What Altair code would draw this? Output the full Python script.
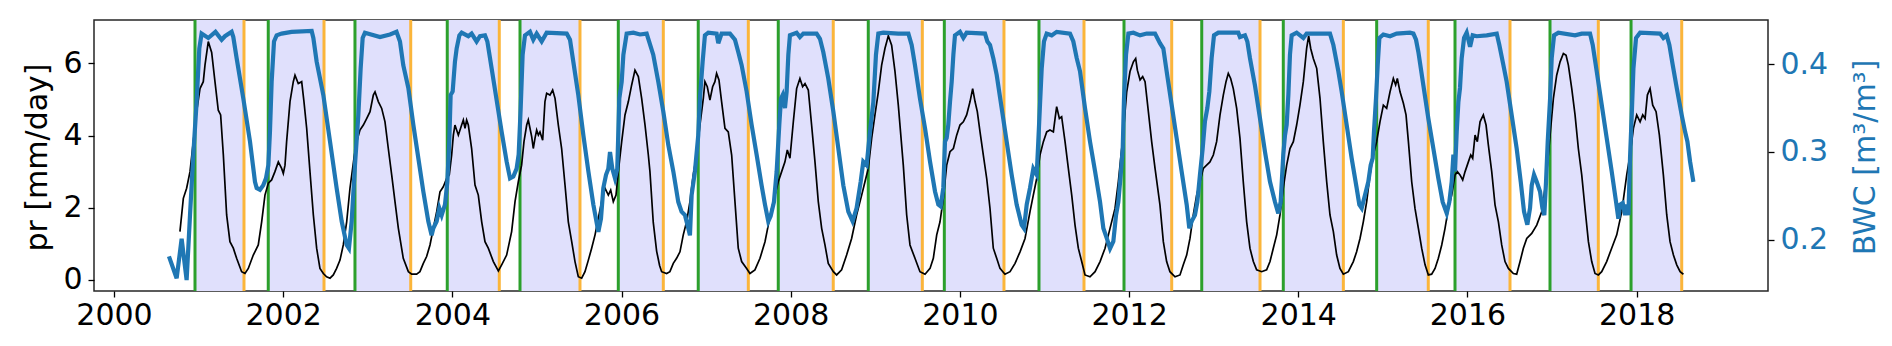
import altair as alt
import pandas as pd

# ---------------- data ----------------
pr_year = [
 2000.780,2000.820,2000.859,2000.899,2000.938,2000.977,2001.017,2001.056,2001.076,2001.115,
 2001.155,2001.194,2001.233,2001.261,2001.293,2001.332,2001.371,2001.411,2001.450,2001.509,
 2001.549,2001.588,2001.647,2001.706,2001.746,2001.785,2001.825,2001.864,2001.903,2001.943,
 2001.982,2002.002,2002.022,2002.041,2002.081,2002.120,2002.140,2002.179,2002.219,2002.246,
 2002.278,2002.317,2002.357,2002.396,2002.435,2002.475,2002.514,2002.554,2002.593,2002.632,
 2002.672,2002.711,2002.751,2002.790,2002.837,2002.869,2002.908,2002.948,2002.987,2003.027,
 2003.066,2003.086,2003.125,2003.165,2003.204,2003.243,2003.283,2003.322,2003.362,
 2003.420,2003.480,2003.519,2003.578,2003.617,2003.657,2003.696,2003.736,2003.775,2003.815,
 2003.854,2003.893,2003.933,2003.964,2003.992,2004.012,2004.031,2004.071,2004.110,2004.130,
 2004.150,2004.169,2004.189,2004.228,2004.268,2004.307,2004.347,2004.386,2004.425,2004.485,
 2004.544,2004.583,2004.642,2004.701,2004.741,2004.780,2004.819,2004.847,2004.879,2004.898,
 2004.918,2004.938,2004.957,2004.977,2004.997,2005.017,2005.036,2005.068,2005.095,2005.115,
 2005.154,2005.186,2005.214,2005.253,2005.292,2005.332,2005.371,2005.411,2005.450,2005.489,
 2005.529,2005.568,2005.608,2005.647,2005.687,2005.726,2005.765,2005.805,2005.844,2005.872,
 2005.903,2005.935,2005.962,2006.002,2006.041,2006.081,2006.120,2006.159,2006.199,2006.238,
 2006.278,2006.317,2006.336,2006.375,2006.415,2006.450,2006.474,
 2006.533,2006.572,2006.612,2006.651,2006.691,2006.730,2006.769,2006.809,2006.848,2006.888,
 2006.927,2006.967,2006.986,2007.014,2007.045,2007.077,2007.104,2007.124,2007.152,2007.183,
 2007.223,2007.262,2007.302,2007.341,2007.380,2007.420,2007.479,2007.518,2007.577,2007.637,
 2007.696,2007.735,2007.775,2007.814,2007.853,2007.893,2007.932,2007.960,2007.991,2008.031,
 2008.070,2008.109,2008.141,2008.169,2008.208,2008.247,2008.287,2008.326,2008.366,2008.405,
 2008.444,2008.504,2008.543,2008.602,2008.661,2008.720,2008.779,2008.839,2008.878,2008.917,
 2008.957,2008.996,2009.036,2009.075,2009.114,2009.154,2009.193,2009.233,2009.272,
 2009.331,2009.371,2009.410,2009.469,2009.528,2009.588,2009.647,2009.686,2009.726,2009.765,
 2009.804,2009.844,2009.883,2009.923,2009.962,2010.001,2010.041,2010.080,2010.120,2010.151,
 2010.179,2010.206,2010.238,2010.277,2010.317,2010.356,2010.395,2010.435,2010.474,2010.533,
 2010.593,2010.652,2010.711,2010.770,2010.829,2010.868,2010.908,2010.947,2010.987,2011.026,
 2011.065,2011.105,2011.125,2011.144,2011.176,2011.203,2011.243,2011.282,2011.322,2011.361,
 2011.400,2011.440,2011.479,2011.538,2011.598,2011.657,2011.716,2011.775,2011.834,2011.873,
 2011.913,2011.940,2011.972,2012.011,2012.051,2012.078,2012.098,2012.130,2012.161,2012.189,
 2012.228,2012.267,2012.307,
 2012.365,2012.405,2012.444,2012.483,2012.543,2012.602,2012.641,2012.681,2012.720,2012.759,
 2012.799,2012.838,2012.878,2012.917,2012.956,2012.996,2013.035,2013.075,2013.114,2013.146,
 2013.173,2013.201,2013.232,2013.272,2013.311,2013.350,2013.390,2013.429,2013.469,2013.508,
 2013.567,2013.626,2013.666,2013.705,2013.745,2013.784,2013.823,2013.863,2013.902,2013.942,
 2013.981,2014.020,2014.060,2014.099,2014.123,2014.147,2014.178,2014.218,2014.257,2014.296,
 2014.336,2014.375,2014.415,2014.454,2014.493,2014.533,2014.592,2014.651,2014.690,2014.730,
 2014.769,2014.809,2014.848,2014.887,2014.927,2014.966,2015.006,2015.045,2015.085,2015.124,
 2015.151,2015.171,2015.203,2015.242,2015.274,2015.302,
 2015.341,2015.380,2015.420,2015.459,2015.499,2015.538,2015.577,2015.617,2015.656,2015.696,
 2015.735,2015.774,2015.814,2015.853,2015.881,2015.912,2015.944,2015.972,2016.011,2016.039,
 2016.062,2016.090,2016.117,2016.149,2016.188,2016.220,2016.247,2016.287,2016.326,2016.366,
 2016.405,2016.444,2016.484,2016.543,2016.582,2016.622,2016.661,2016.701,2016.760,2016.819,
 2016.878,2016.917,2016.945,2016.977,2017.016,2017.055,2017.095,2017.134,2017.166,2017.193,
 2017.233,2017.272,2017.311,2017.351,2017.390,2017.430,2017.469,2017.508,2017.548,2017.587,
 2017.646,2017.705,2017.765,2017.824,2017.883,2017.922,2017.962,2018.001,2018.041,2018.072,
 2018.100,2018.127,2018.159,2018.190,2018.230,2018.269,2018.316,2018.356,2018.395,2018.435,
 2018.474,2018.514,2018.553,
]
pr_val = [
 1.34,2.26,2.54,3.00,3.83,4.66,5.30,5.49,5.95,6.60,
 6.30,5.49,4.70,4.57,3.46,1.80,1.06,0.88,0.60,0.23,
 0.18,0.32,0.69,0.97,1.61,2.35,2.68,2.77,3.00,3.27,
 3.09,2.95,3.18,3.83,4.94,5.49,5.67,5.44,5.49,4.94,
 4.20,3.00,1.80,0.88,0.32,0.18,0.09,0.05,0.14,0.32,
 0.55,0.97,1.61,2.54,3.37,3.83,4.15,4.29,4.47,4.66,
 5.12,5.21,4.94,4.75,4.38,3.64,2.91,2.17,1.43,
 0.60,0.23,0.16,0.16,0.23,0.46,0.65,0.97,1.43,1.89,
 2.44,2.58,2.81,2.91,3.46,4.01,4.29,4.01,4.29,4.43,
 4.20,4.43,4.29,3.64,2.63,2.35,1.61,1.06,0.88,0.51,
 0.25,0.42,0.69,1.34,2.17,2.72,3.18,3.83,4.29,4.43,
 4.20,3.97,3.64,3.92,4.15,4.01,4.10,3.87,4.94,5.17,
 5.12,5.26,5.03,4.29,3.64,2.63,1.61,1.06,0.51,0.09,
 0.05,0.23,0.55,0.88,1.25,1.71,2.17,2.54,2.35,2.49,
 2.17,2.35,3.00,3.83,4.57,4.94,5.40,5.81,5.63,5.03,
 4.29,3.46,3.00,1.60,0.80,0.40,0.23,
 0.18,0.23,0.46,0.60,0.78,1.25,1.61,2.17,2.91,3.46,
 4.29,5.03,5.49,5.35,4.98,5.35,5.49,5.72,5.54,4.94,
 4.20,4.10,3.46,2.17,0.88,0.51,0.32,0.18,0.28,0.60,
 1.06,1.52,1.98,2.35,2.72,3.00,3.27,3.60,3.37,4.38,
 5.30,5.58,5.35,5.44,5.26,4.29,3.27,2.17,1.43,0.97,
 0.46,0.23,0.14,0.28,0.69,1.15,1.80,2.35,2.72,3.09,
 3.92,4.57,5.21,5.95,6.41,6.76,6.50,5.77,4.84,
 3.18,1.80,0.97,0.60,0.23,0.16,0.32,0.60,1.25,1.61,
 2.26,3.18,3.55,3.64,4.01,4.29,4.38,4.57,4.94,5.30,
 4.94,4.66,4.10,3.46,2.81,1.98,0.88,0.60,0.32,0.16,
 0.23,0.46,0.78,1.15,1.89,2.35,2.81,3.46,3.83,4.10,
 4.15,4.10,4.47,4.80,4.47,4.52,3.83,3.09,2.35,1.52,
 0.88,0.51,0.14,0.09,0.23,0.51,0.88,1.43,1.98,2.72,
 3.64,4.29,5.21,5.77,6.04,6.13,5.81,5.54,5.63,5.49,
 4.66,3.83,3.09,
 2.08,1.06,0.51,0.23,0.09,0.14,0.42,0.69,1.15,1.80,
 2.35,2.72,3.09,3.18,3.27,3.46,3.83,4.57,5.12,5.49,
 5.72,5.58,5.30,4.75,3.92,2.72,1.61,0.88,0.51,0.28,
 0.23,0.28,0.51,0.88,1.25,1.80,2.54,3.18,3.64,3.83,
 4.29,4.84,5.49,6.41,6.76,6.41,6.13,5.86,5.03,3.83,
 2.72,1.80,1.34,0.69,0.32,0.16,0.23,0.51,0.78,1.15,
 1.61,2.17,2.91,3.46,3.83,4.38,4.84,4.75,5.21,5.58,
 5.40,5.58,5.21,4.90,4.57,3.83,
 2.72,1.98,1.43,0.88,0.42,0.14,0.16,0.32,0.60,0.97,
 1.43,1.98,2.35,2.91,3.00,2.91,2.77,3.00,3.27,3.46,
 3.37,4.01,3.83,4.38,4.57,4.29,3.74,3.00,2.08,1.61,
 0.97,0.51,0.32,0.18,0.16,0.51,0.88,1.15,1.29,1.52,
 1.89,2.54,3.18,4.01,5.03,5.67,6.04,6.27,6.22,5.95,
 5.30,4.57,3.64,2.91,1.98,1.06,0.51,0.18,0.14,0.23,
 0.51,0.88,1.25,1.89,2.91,3.46,4.20,4.57,4.38,4.57,
 4.47,5.12,5.30,4.84,4.66,4.01,2.91,1.80,1.06,0.69,
 0.42,0.23,0.16,
]

bwc_year = [
 2000.650,2000.741,2000.800,2000.859,2000.899,2000.938,2000.977,2001.009,2001.036,2001.115,
 2001.200,2001.273,2001.312,2001.391,2001.411,2001.450,2001.529,2001.608,2001.667,2001.687,
 2001.726,2001.765,2001.797,2001.825,2001.844,2001.864,2001.892,2001.923,2001.982,2002.100,
 2002.337,2002.357,2002.396,2002.475,2002.554,2002.632,2002.692,2002.751,2002.778,2002.810,
 2002.849,2002.889,2002.916,2002.940,2002.967,2003.145,2003.263,2003.340,
 2003.381,2003.420,2003.480,2003.539,2003.598,2003.657,2003.716,2003.755,2003.775,2003.815,
 2003.846,2003.874,2003.913,2003.941,2003.964,2003.980,2004.004,2004.031,2004.051,2004.083,
 2004.110,2004.189,2004.228,2004.287,2004.327,2004.386,2004.414,2004.465,2004.524,2004.583,
 2004.642,2004.682,2004.721,2004.760,2004.784,2004.808,2004.831,2004.859,2004.918,2004.957,
 2004.997,2005.056,2005.115,2005.352,2005.391,2005.430,2005.489,2005.549,2005.608,2005.667,
 2005.726,2005.757,2005.785,2005.817,2005.844,2005.864,2005.891,2005.923,2005.950,2005.974,
 2006.002,2006.022,2006.061,2006.140,2006.219,2006.297,
 2006.375,2006.435,2006.494,2006.553,2006.612,2006.671,2006.710,2006.750,2006.789,2006.809,
 2006.829,2006.868,2006.907,2006.927,2006.959,2006.986,2007.026,2007.124,2007.144,2007.183,
 2007.282,2007.341,2007.380,2007.420,2007.479,2007.538,2007.597,2007.656,2007.696,2007.735,
 2007.763,2007.802,2007.834,2007.865,2007.885,2007.905,2007.932,2007.952,2007.972,2007.991,
 2008.070,2008.109,2008.149,2008.306,2008.346,2008.385,2008.444,2008.504,2008.563,2008.622,
 2008.681,2008.732,2008.779,2008.827,2008.858,2008.898,2008.937,2008.977,2009.008,2009.036,
 2009.095,2009.272,
 2009.391,2009.430,2009.469,2009.528,2009.588,2009.647,2009.706,2009.745,2009.773,2009.804,
 2009.824,2009.844,2009.863,2009.883,2009.903,2009.923,2009.942,2010.001,2010.041,2010.080,
 2010.297,2010.325,2010.356,2010.395,2010.435,2010.494,2010.553,2010.612,2010.671,2010.730,
 2010.758,2010.790,2010.829,2010.868,2010.908,2010.927,2010.947,2010.967,2010.994,2011.026,
 2011.085,2011.144,2011.302,2011.341,2011.381,2011.420,2011.479,2011.538,2011.598,2011.657,
 2011.696,2011.735,2011.775,2011.814,2011.846,2011.873,2011.901,2011.925,2011.940,2011.964,
 2011.992,2012.051,2012.130,2012.208,2012.307,
 2012.365,2012.405,2012.444,2012.503,2012.562,2012.621,2012.681,2012.712,2012.740,2012.779,
 2012.807,2012.838,2012.870,2012.897,2012.925,2012.949,2012.976,2013.004,2013.055,2013.291,
 2013.311,2013.370,2013.398,2013.429,2013.488,2013.548,2013.607,2013.666,2013.725,2013.764,
 2013.792,2013.823,2013.843,2013.863,2013.883,2013.902,2013.922,2013.981,2014.060,2014.099,
 2014.375,2014.415,2014.474,2014.513,2014.572,2014.631,2014.690,2014.722,2014.750,2014.789,
 2014.828,2014.856,2014.880,2014.895,2014.919,2014.939,2014.959,2015.006,2015.085,2015.163,
 2015.321,
 2015.361,2015.392,2015.420,2015.479,2015.538,2015.597,2015.656,2015.707,2015.755,2015.786,
 2015.814,2015.834,2015.853,2015.873,2015.893,2015.912,2015.932,2015.960,2015.991,2016.031,
 2016.062,2016.109,2016.228,2016.346,2016.377,2016.425,2016.464,2016.523,2016.582,2016.630,
 2016.669,2016.708,2016.740,2016.760,2016.787,2016.819,2016.858,2016.886,2016.909,2016.929,
 2016.949,2016.977,2016.996,2017.024,2017.075,2017.272,2017.351,2017.449,2017.481,2017.528,
 2017.587,2017.646,2017.705,2017.757,2017.784,2017.804,2017.836,2017.863,2017.883,2017.903,
 2017.922,2017.942,2017.962,2017.993,2018.041,2018.277,2018.316,2018.356,2018.387,2018.427,
 2018.474,2018.533,2018.573,2018.600,2018.632,2018.671,
]
bwc_val = [
 0.181,0.156,0.201,0.154,0.228,0.297,0.357,0.418,0.435,0.430,
 0.437,0.428,0.432,0.437,0.431,0.407,0.361,0.312,0.266,0.259,
 0.257,0.262,0.270,0.285,0.323,0.380,0.426,0.433,0.435,0.437,
 0.438,0.430,0.403,0.365,0.312,0.259,0.221,0.194,0.190,0.221,
 0.285,0.342,0.395,0.430,0.436,0.431,0.434,0.437,
 0.426,0.399,0.373,0.331,0.293,0.255,0.221,0.205,0.213,0.221,
 0.236,0.228,0.240,0.266,0.312,0.365,0.369,0.403,0.418,0.433,
 0.436,0.432,0.435,0.426,0.432,0.433,0.426,0.395,0.359,0.323,
 0.289,0.270,0.272,0.281,0.297,0.350,0.411,0.433,0.437,0.428,
 0.435,0.426,0.436,0.435,0.428,0.403,0.365,0.319,0.278,0.240,
 0.209,0.224,0.259,0.274,0.281,0.300,0.281,0.270,0.281,0.361,
 0.380,0.411,0.435,0.436,0.434,0.435,
 0.411,0.380,0.346,0.308,0.278,0.243,0.232,0.228,0.213,0.205,
 0.251,0.278,0.319,0.361,0.403,0.433,0.436,0.435,0.424,0.435,
 0.435,0.428,0.414,0.399,0.369,0.331,0.297,0.262,0.240,0.221,
 0.227,0.243,0.278,0.331,0.361,0.365,0.350,0.369,0.411,0.433,
 0.436,0.431,0.435,0.435,0.429,0.414,0.384,0.346,0.304,0.262,
 0.232,0.221,0.236,0.266,0.289,0.285,0.323,0.357,0.411,0.435,
 0.436,0.435,
 0.435,0.422,0.399,0.361,0.327,0.289,0.255,0.240,0.238,0.259,
 0.312,0.316,0.331,0.357,0.380,0.411,0.433,0.437,0.430,0.436,
 0.435,0.426,0.422,0.407,0.388,0.350,0.312,0.274,0.240,0.217,
 0.213,0.240,0.259,0.281,0.274,0.312,0.354,0.395,0.426,0.435,
 0.433,0.437,0.435,0.426,0.407,0.392,0.350,0.312,0.278,0.243,
 0.213,0.202,0.190,0.198,0.228,0.243,0.274,0.304,0.361,0.411,
 0.435,0.436,0.433,0.435,0.435,
 0.424,0.418,0.392,0.354,0.316,0.278,0.240,0.213,0.221,0.228,
 0.243,0.274,0.304,0.335,0.350,0.369,0.407,0.433,0.436,0.436,
 0.431,0.433,0.426,0.407,0.376,0.338,0.300,0.266,0.243,0.230,
 0.243,0.297,0.319,0.331,0.365,0.411,0.433,0.436,0.430,0.435,
 0.435,0.422,0.392,0.369,0.331,0.293,0.259,0.240,0.236,0.251,
 0.266,0.285,0.293,0.323,0.361,0.399,0.430,0.434,0.432,0.435,
 0.436,
 0.435,0.428,0.414,0.376,0.338,0.304,0.270,0.243,0.230,0.243,
 0.266,0.297,0.278,0.323,0.357,0.373,0.407,0.430,0.436,0.420,
 0.433,0.432,0.433,0.435,0.422,0.399,0.380,0.342,0.304,0.266,
 0.232,0.217,0.236,0.262,0.274,0.266,0.255,0.236,0.228,0.266,
 0.312,0.361,0.407,0.433,0.436,0.433,0.435,0.435,0.422,0.392,
 0.354,0.316,0.278,0.243,0.224,0.240,0.242,0.228,0.240,0.228,
 0.293,0.342,0.395,0.430,0.436,0.435,0.430,0.433,0.422,0.399,
 0.373,0.342,0.323,0.312,0.289,0.266,
]

# season start (green) and end (orange) markers, decimal years
green_year = [2000.958, 2001.824, 2002.849, 2003.940, 2004.800, 2005.962,
              2006.907, 2007.853, 2008.917, 2009.816, 2010.935, 2011.940,
              2012.859, 2013.823, 2014.927, 2015.853, 2016.976, 2017.934]
orange_year = [2001.537, 2002.483, 2003.508, 2004.555, 2005.509, 2006.494,
               2007.499, 2008.503, 2009.556, 2010.521, 2011.467, 2012.504,
               2013.548, 2014.533, 2015.537, 2016.503, 2017.547, 2018.533]

x_ticks = list(range(2000, 2019, 2))
pr_ticks = [0, 2, 4, 6]
bwc_ticks = [0.2, 0.3, 0.4]

# ---------------- chart ----------------
W, H = 1674, 271
FONT = "DejaVu Sans"
FS = 30
X_DOMAIN = [1999.764, 2019.553]

pr_df = pd.DataFrame({"year": pr_year, "pr": pr_val})
bwc_df = pd.DataFrame({"year": bwc_year, "bwc": bwc_val})
span_df = pd.DataFrame({"start": green_year, "end": orange_year})

xscale = alt.Scale(domain=X_DOMAIN, nice=False, zero=False)
xaxis = alt.Axis(values=x_ticks, format="d", title=None, labelPadding=3)

spans = alt.Chart(span_df).mark_rect(color="#e0e0fc").encode(
    x=alt.X("start:Q", scale=xscale, axis=xaxis),
    x2="end:Q",
    y=alt.value(0),
    y2=alt.value(H),
)

green_rules = alt.Chart(span_df).mark_rule(color="#2ca02c", strokeWidth=3).encode(
    x=alt.X("start:Q", scale=xscale, axis=xaxis)
)
orange_rules = alt.Chart(span_df).mark_rule(color="#fbb53a", strokeWidth=3).encode(
    x=alt.X("end:Q", scale=xscale, axis=xaxis)
)

pr_line = alt.Chart(pr_df).mark_line(color="black", strokeWidth=1.7).encode(
    x=alt.X("year:Q", scale=xscale, axis=xaxis),
    y=alt.Y(
        "pr:Q",
        scale=alt.Scale(domain=[-0.305, 7.198], nice=False, zero=False),
        axis=alt.Axis(
            values=pr_ticks, title="pr [mm/day]", orient="left",
            titleX=-57, titleY=137, titleAngle=270,
            titleAlign="center", titleBaseline="middle", labelPadding=6,
        ),
    ),
)

bwc_line = alt.Chart(bwc_df).mark_line(color="#1f77b4", strokeWidth=4.2).encode(
    x=alt.X("year:Q", scale=xscale, axis=xaxis),
    y=alt.Y(
        "bwc:Q",
        scale=alt.Scale(domain=[0.1415, 0.4505], nice=False, zero=False),
        axis=alt.Axis(
            values=bwc_ticks, format=".1f", title="BWC [m³/m³]", orient="right",
            titleX=97, titleY=137, titleAngle=270,
            titleAlign="center", titleBaseline="middle",
            labelColor="#1f77b4", titleColor="#1f77b4", labelPadding=6,
        ),
    ),
)

chart = (
    alt.layer(spans, green_rules, orange_rules, pr_line, bwc_line)
    .resolve_scale(y="independent")
    .properties(
        width=W, height=H,
        autosize=alt.AutoSizeParams(type="none"),
        padding={"left": 86, "top": 12, "right": 116, "bottom": 46},
        background="white",
    )
    .configure_view(stroke="#262626", strokeWidth=1.5)
    .configure_axis(
        domain=False, grid=False,
        tickColor="black", tickSize=6, tickWidth=1.3,
        labelFont=FONT, labelFontSize=FS, labelColor="black",
        titleFont=FONT, titleFontSize=FS, titleFontWeight="normal", titleColor="black",
    )
)

chart.save("out.html", embed_options={"renderer": "svg", "actions": False})
